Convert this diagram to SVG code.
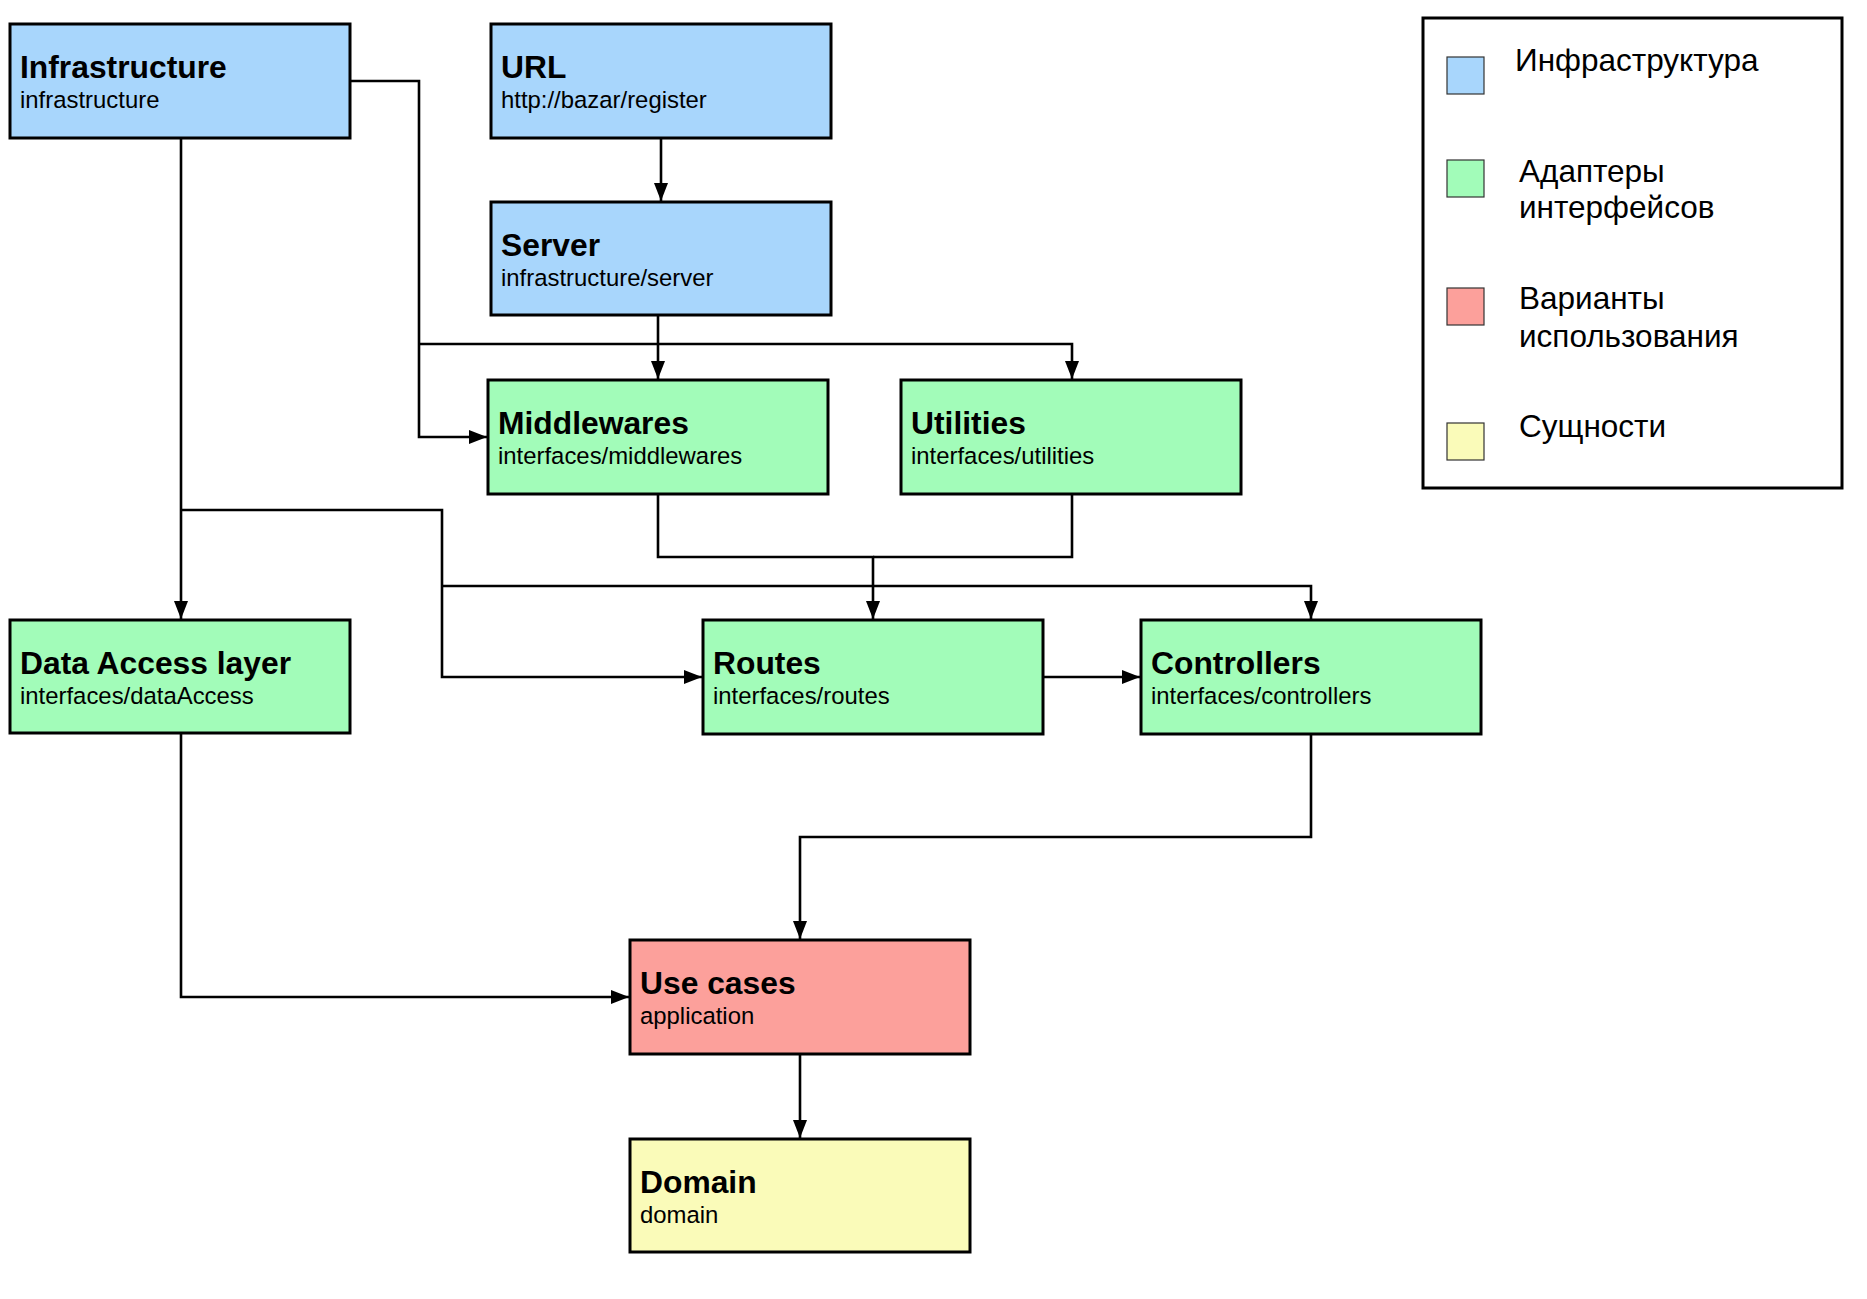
<svg xmlns="http://www.w3.org/2000/svg" width="1867" height="1299" viewBox="0 0 1867 1299">
<style>
.box{stroke:#000;stroke-width:3}
.inf{fill:#a8d6fc}
.adp{fill:#a2fcb9}
.uc{fill:#fca09b}
.dom{fill:#fafbb9}
.t{font-family:"Liberation Sans",Arial,sans-serif;font-weight:bold;font-size:31.8px;fill:#000}
.s{font-family:"Liberation Sans",Arial,sans-serif;font-size:23.9px;fill:#000}
.lg{font-family:"Liberation Sans",Arial,sans-serif;font-size:31.5px;fill:#000}
.c{fill:none;stroke:#000;stroke-width:2.6}
.sw{stroke:#333;stroke-width:1.2}
</style>
<defs>
<marker id="ah" markerUnits="userSpaceOnUse" markerWidth="19" markerHeight="15" refX="18" refY="7" orient="auto">
<path d="M0,0 L18,7 L0,14 z" fill="#000"/>
</marker>
</defs>
<rect width="1867" height="1299" fill="#fff"/>
<g id="connectors">
<path class="c" marker-end="url(#ah)" d="M661,139 L661,201"/>
<path class="c" marker-end="url(#ah)" d="M658,315 L658,379"/>
<path class="c" marker-end="url(#ah)" d="M350,81 L419,81 L419,437 L487,437"/>
<path class="c" marker-end="url(#ah)" d="M419,344 L1072,344 L1072,379"/>
<path class="c" marker-end="url(#ah)" d="M181,138 L181,619"/>
<path class="c" marker-end="url(#ah)" d="M181,510 L442,510 L442,677 L702,677"/>
<path class="c" marker-end="url(#ah)" d="M442,586 L1311,586 L1311,619"/>
<path class="c" marker-end="url(#ah)" d="M658,494 L658,557 L873,557 L873,619"/>
<path class="c" d="M1072,494 L1072,557 L873,557"/>
<path class="c" marker-end="url(#ah)" d="M1043,677 L1140,677"/>
<path class="c" marker-end="url(#ah)" d="M1311,734 L1311,837 L800,837 L800,939"/>
<path class="c" marker-end="url(#ah)" d="M181,734 L181,997 L629,997"/>
<path class="c" marker-end="url(#ah)" d="M800,1054 L800,1138"/>
</g>
<g id="infrastructure">
<rect class="box inf" x="10" y="24" width="340" height="114"/>
<text class="t" x="20" y="78">Infrastructure</text>
<text class="s" x="20" y="108">infrastructure</text>
</g>
<g id="url">
<rect class="box inf" x="491" y="24" width="340" height="114"/>
<text class="t" x="501" y="78">URL</text>
<text class="s" x="501" y="108">http://bazar/register</text>
</g>
<g id="server">
<rect class="box inf" x="491" y="202" width="340" height="113"/>
<text class="t" x="501" y="256">Server</text>
<text class="s" x="501" y="286">infrastructure/server</text>
</g>
<g id="middlewares">
<rect class="box adp" x="488" y="380" width="340" height="114"/>
<text class="t" x="498" y="434">Middlewares</text>
<text class="s" x="498" y="464">interfaces/middlewares</text>
</g>
<g id="utilities">
<rect class="box adp" x="901" y="380" width="340" height="114"/>
<text class="t" x="911" y="434">Utilities</text>
<text class="s" x="911" y="464">interfaces/utilities</text>
</g>
<g id="data-access">
<rect class="box adp" x="10" y="620" width="340" height="113"/>
<text class="t" x="20" y="674">Data Access layer</text>
<text class="s" x="20" y="704">interfaces/dataAccess</text>
</g>
<g id="routes">
<rect class="box adp" x="703" y="620" width="340" height="114"/>
<text class="t" x="713" y="674">Routes</text>
<text class="s" x="713" y="704">interfaces/routes</text>
</g>
<g id="controllers">
<rect class="box adp" x="1141" y="620" width="340" height="114"/>
<text class="t" x="1151" y="674">Controllers</text>
<text class="s" x="1151" y="704">interfaces/controllers</text>
</g>
<g id="use-cases">
<rect class="box uc" x="630" y="940" width="340" height="114"/>
<text class="t" x="640" y="994">Use cases</text>
<text class="s" x="640" y="1024">application</text>
</g>
<g id="domain">
<rect class="box dom" x="630" y="1139" width="340" height="113"/>
<text class="t" x="640" y="1193">Domain</text>
<text class="s" x="640" y="1223">domain</text>
</g>
<g id="legend">
<rect x="1423" y="18" width="419" height="470" fill="#fff" stroke="#000" stroke-width="3"/>
<rect class="sw inf" x="1447" y="57" width="37" height="37"/>
<rect class="sw adp" x="1447" y="160" width="37" height="37"/>
<rect class="sw uc" x="1447" y="288" width="37" height="37"/>
<rect class="sw dom" x="1447" y="423" width="37" height="37"/>
<text class="lg" x="1515" y="71">Инфраструктура</text>
<text class="lg" x="1519" y="182">Адаптеры</text>
<text class="lg" x="1519" y="218">интерфейсов</text>
<text class="lg" x="1519" y="309">Варианты</text>
<text class="lg" x="1519" y="347">использования</text>
<text class="lg" x="1519" y="437">Сущности</text>
</g>
</svg>
